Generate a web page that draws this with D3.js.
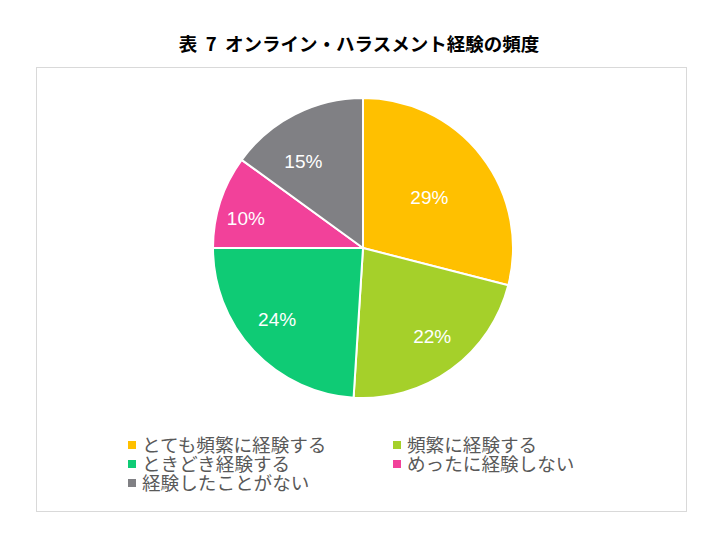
<!DOCTYPE html>
<html><head><meta charset="utf-8">
<script src="https://cdn.jsdelivr.net/npm/d3@7"></script>
<style>body{margin:0;background:#fff}svg{display:block}</style>
</head><body>
<svg id="c" width="720" height="538"></svg>
<script>
const categories = ["とても頻繁に経験する","頻繁に経験する","ときどき経験する","めったに経験しない","経験したことがない"];
const values = [29, 22, 24, 10, 15];
const colors = ["#FFC000","#A5D02A","#0FCB75","#F2419A","#808084"];
const title = "表  7  オンライン・ハラスメント経験の頻度";

const svg = d3.select("#c");
svg.append("rect").attr("x",36.5).attr("y",67.5).attr("width",650).attr("height",444)
  .attr("fill","#fff").attr("stroke","#d9d9d9").attr("stroke-width",1);

svg.append("text").attr("x",359).attr("y",51).attr("text-anchor","middle")
  .attr("font-family","'Noto Sans CJK JP'").attr("font-weight","bold").attr("font-size",18.5)
  .attr("fill","#000").style("white-space","pre").text(title);

const cx = 363, cy = 248, R = 150;
const pie = d3.pie().value(d=>d).sort(null);
const arcs = pie(values);
const arc = d3.arc().innerRadius(0).outerRadius(R);
const g = svg.append("g").attr("transform",`translate(${cx},${cy})`);
g.selectAll("path").data(arcs).join("path").attr("d",arc)
  .attr("fill",(d,i)=>colors[i]).attr("stroke","#fff").attr("stroke-width",2).attr("stroke-linejoin","round");

const labelR = [0.56,0.74,0.74,0.8,0.7];
const nudge = [[0,1],[4,-2],[-5,-5],[-3,7],[-12,7]];
g.selectAll("text").data(arcs).join("text")
  .attr("transform",(d,i)=>{const a=(d.startAngle+d.endAngle)/2; const r=R*labelR[i]; return `translate(${r*Math.sin(a)+nudge[i][0]},${-r*Math.cos(a)+nudge[i][1]})`;})
  .attr("text-anchor","middle").attr("dy","0.36em")
  .attr("font-family","Arial, 'Liberation Sans'").attr("font-size",19).attr("fill","#fff")
  .text(d=>d.data+"%");

const legX = [131, 396], legY = [445, 464, 483];
categories.forEach((c,i)=>{
  const col = i%2, row = Math.floor(i/2);
  const lg = svg.append("g").attr("transform",`translate(${legX[col]},${legY[row]})`);
  lg.append("rect").attr("x",-3).attr("y",-4).attr("width",8).attr("height",8).attr("fill",colors[i]);
  lg.append("text").attr("x",11).attr("y",0).attr("dy","0.36em")
    .attr("font-family","'Noto Sans CJK JP'").attr("font-size",18.6).attr("fill","#595959").text(c);
});
</script>
</body></html>
